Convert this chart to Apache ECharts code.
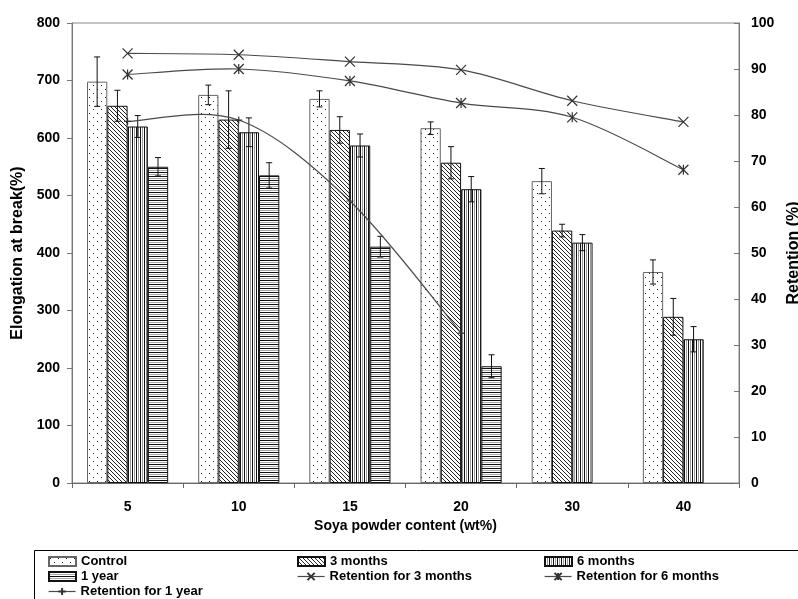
<!DOCTYPE html>
<html>
<head>
<meta charset="utf-8">
<script src="https://cdn.jsdelivr.net/npm/echarts@6/dist/echarts.min.js"></script>
<style>
html,body{margin:0;padding:0;background:#fff;}
#main{width:798px;height:599px;}
</style>
</head>
<body>
<div id="main"></div>
<script>
// ---- data ----
var categories = ['5', '10', '15', '20', '30', '40'];
var control = [698, 675, 668, 617, 525, 367];
var controlErr = [43, 17, 14, 11, 22, 21];
var months3 = [656, 632, 614, 557, 439, 289];
var months3Err = [27, 50, 23, 28, 11, 32];
var months6 = [620, 610, 587, 511, 418, 250];
var months6Err = [19, 25, 20, 22, 14, 22];
var year1 = [550, 535, 411, 203, null, null];
var year1Err = [16, 22, 18, 20, null, null];
var ret3 = [93.4, 93.1, 91.6, 89.8, 83.1, 78.5];
var ret6 = [88.8, 90.0, 87.4, 82.6, 79.5, 68.1];
var ret1 = [78.6, 78.9, 61.3, 32.6, null, null];
var leftTicks = [0, 800, 100];
var rightTicks = [0, 100, 10];

var FONT = "'Liberation Sans', Arial, sans-serif";
var LINE_COLOR = '#4a4a4a';

function makePattern(w, h, draw) {
  var c = document.createElement('canvas');
  c.width = w; c.height = h;
  var ctx = c.getContext('2d');
  ctx.fillStyle = '#fff';
  ctx.fillRect(0, 0, w, h);
  draw(ctx);
  return { image: c, repeat: 'repeat' };
}
var patDots = makePattern(8, 8, function (ctx) {
  ctx.fillStyle = '#222';
  ctx.fillRect(1, 1, 1, 1);
  ctx.fillRect(5, 5, 1, 1);
});
var patDiag = makePattern(4, 4, function (ctx) {
  ctx.fillStyle = '#222';
  for (var i = 0; i < 4; i++) ctx.fillRect(i, i, 1, 1);
});
var patVert = makePattern(4, 4, function (ctx) {
  ctx.fillStyle = '#111';
  ctx.fillRect(0, 0, 1, 4);
  ctx.fillStyle = '#999';
  ctx.fillRect(2, 0, 1, 4);
});
var patHoriz = makePattern(4, 4, function (ctx) {
  ctx.fillStyle = '#111';
  ctx.fillRect(0, 0, 4, 1);
  ctx.fillStyle = '#aaa';
  ctx.fillRect(0, 2, 4, 1);
});

var GAP = 0.27;
function errSeries(vals, errs, k) {
  var data = [];
  for (var i = 0; i < vals.length; i++) {
    if (vals[i] != null) data.push([i, vals[i], errs[i], k]);
  }
  return {
    type: 'custom', yAxisIndex: 0, z: 5, silent: true,
    encode: { x: 0, y: 1 },
    data: data,
    renderItem: function (params, api) {
      var ci = api.value(0), v = api.value(1), e = api.value(2), kk = api.value(3);
      var band = api.size([1, 0])[0];
      var bw = band * (1 - GAP) / 4;
      var c = api.coord([ci, v]);
      var x = c[0] + (kk - 1.5) * bw;
      var yt = api.coord([ci, v + e])[1];
      var yb = api.coord([ci, v - e])[1];
      var st = { stroke: '#111', lineWidth: 1 };
      var cap = 3;
      return {
        type: 'group',
        children: [
          { type: 'line', shape: { x1: x, y1: yt, x2: x, y2: yb }, style: st },
          { type: 'line', shape: { x1: x - cap, y1: yt, x2: x + cap, y2: yt }, style: st },
          { type: 'line', shape: { x1: x - cap, y1: yb, x2: x + cap, y2: yb }, style: st }
        ]
      };
    }
  };
}

function barSeries(name, vals, pat, border) {
  return {
    name: name, type: 'bar', yAxisIndex: 0, data: vals,
    barGap: '0%', barCategoryGap: (GAP * 100) + '%',
    itemStyle: { color: pat, borderColor: border, borderWidth: 1 },
    z: 2
  };
}

// Smoothed curve (spreadsheet-style Bezier) drawn through the axis scales
function curveSeries(vals) {
  var data = [];
  for (var i = 0; i < vals.length; i++) {
    if (vals[i] != null) data.push([i, vals[i]]);
  }
  return {
    type: 'custom', yAxisIndex: 1, z: 6, silent: true,
    encode: { x: 0, y: 1 },
    data: data,
    renderItem: function (params, api) {
      var i = params.dataIndex;
      var n = data.length;
      if (i >= n - 1) return null;
      function P(j) {
        j = Math.max(0, Math.min(n - 1, j));
        return api.coord([data[j][0], data[j][1]]);
      }
      var p0 = P(i - 1), p1 = P(i), p2 = P(i + 1), p3 = P(i + 2);
      var t = 1 / 6;
      return {
        type: 'bezierCurve',
        shape: {
          x1: p1[0], y1: p1[1], x2: p2[0], y2: p2[1],
          cpx1: p1[0] + (p2[0] - p0[0]) * t, cpy1: p1[1] + (p2[1] - p0[1]) * t,
          cpx2: p2[0] - (p3[0] - p1[0]) * t, cpy2: p2[1] - (p3[1] - p1[1]) * t
        },
        style: { stroke: LINE_COLOR, lineWidth: 1.2, fill: null }
      };
    }
  };
}

var symX = 'path://M0,0L10,10M0,10L10,0';
var symAst = 'path://M0,0L10,10M0,10L10,0M5,0L5,10';
var symPlus = 'path://M0,5L10,5M5,0L5,10';

function lineSeries(name, vals, sym, size) {
  return {
    name: name, type: 'line', yAxisIndex: 1, data: vals,
    symbol: sym, symbolSize: size, showSymbol: true,
    lineStyle: { color: LINE_COLOR, width: 1.2, opacity: 0 },
    itemStyle: { color: '#333', borderColor: '#333', borderWidth: 1.2 },
    z: 7
  };
}

var labelStyle = { fontFamily: FONT, fontWeight: 'bold', fontSize: 14, color: '#000' };
var yNameStyle = { fontFamily: FONT, fontWeight: 'bold', fontSize: 16, color: '#000' };
var legendText = { fontFamily: FONT, fontWeight: 'bold', fontSize: 13, color: '#000', lineHeight: 15 };
function legendItem(name, left, top, isLine) {
  var item = { name: name };
  if (isLine) {
    item.lineStyle = { opacity: 1, color: LINE_COLOR, width: 1.2 };
  } else {
    item.icon = 'rect';
  }
  return {
    data: [item], orient: 'horizontal', left: left, top: top,
    itemWidth: 27, itemHeight: 9, itemGap: 0, selectedMode: false,
    textStyle: legendText, padding: 0
  };
}

var chart = echarts.init(document.getElementById('main'), null, { renderer: 'canvas' });
chart.setOption({
  animation: false,
  backgroundColor: '#fff',
  grid: {
    left: 72, right: 59, top: 23, bottom: 116, outerBoundsMode: 'none', containLabel: false,
    show: true, borderColor: '#888', borderWidth: 1, backgroundColor: 'transparent'
  },
  xAxis: {
    type: 'category', data: categories,
    name: 'Soya powder content (wt%)', nameLocation: 'middle', nameGap: 30,
    nameTextStyle: labelStyle,
    axisLine: { lineStyle: { color: '#666', width: 1 } },
    axisTick: { show: true, length: 5, lineStyle: { color: '#666' } },
    axisLabel: Object.assign({ margin: 17 }, labelStyle)
  },
  yAxis: [
    {
      type: 'value', min: leftTicks[0], max: leftTicks[1], interval: leftTicks[2],
      name: 'Elongation at break(%)', nameLocation: 'middle', nameGap: 45, nameRotate: 90,
      nameTextStyle: yNameStyle,
      axisLine: { show: true, lineStyle: { color: '#777' } },
      axisTick: { show: true, length: 5, lineStyle: { color: '#777' } },
      axisLabel: Object.assign({ margin: 12 }, labelStyle),
      splitLine: { show: false }
    },
    {
      type: 'value', min: rightTicks[0], max: rightTicks[1], interval: rightTicks[2],
      position: 'right',
      name: 'Retention (%)', nameLocation: 'middle', nameGap: 44, nameRotate: 90,
      nameTextStyle: yNameStyle,
      axisLine: { show: true, lineStyle: { color: '#777' } },
      axisTick: { show: true, inside: true, length: 5, lineStyle: { color: '#777' } },
      axisLabel: Object.assign({ margin: 12 }, labelStyle),
      splitLine: { show: false }
    }
  ],
  legend: [
    legendItem('Control', 48, 554, false),
    legendItem('3 months', 297, 554, false),
    legendItem('6 months', 544, 554, false),
    legendItem('1 year', 48, 569, false),
    legendItem('Retention for 3 months', 297, 569, true),
    legendItem('Retention for 6 months', 544, 569, true),
    legendItem('Retention for 1 year', 48, 584, true)
  ],
  graphic: [{
    type: 'rect', left: 32, top: 548, silent: true,
    shape: { width: 765, height: 70 },
    style: { fill: 'none', stroke: '#000', lineWidth: 1 }
  }],
  series: [
    barSeries('Control', control, patDots, '#666'),
    barSeries('3 months', months3, patDiag, '#111'),
    barSeries('6 months', months6, patVert, '#111'),
    barSeries('1 year', year1, patHoriz, '#111'),
    errSeries(control, controlErr, 0),
    errSeries(months3, months3Err, 1),
    errSeries(months6, months6Err, 2),
    errSeries(year1, year1Err, 3),
    curveSeries(ret3),
    curveSeries(ret6),
    curveSeries(ret1),
    lineSeries('Retention for 3 months', ret3, symX, 10),
    lineSeries('Retention for 6 months', ret6, symAst, 10),
    lineSeries('Retention for 1 year', ret1, symPlus, 7)
  ]
});
</script>
</body>
</html>
